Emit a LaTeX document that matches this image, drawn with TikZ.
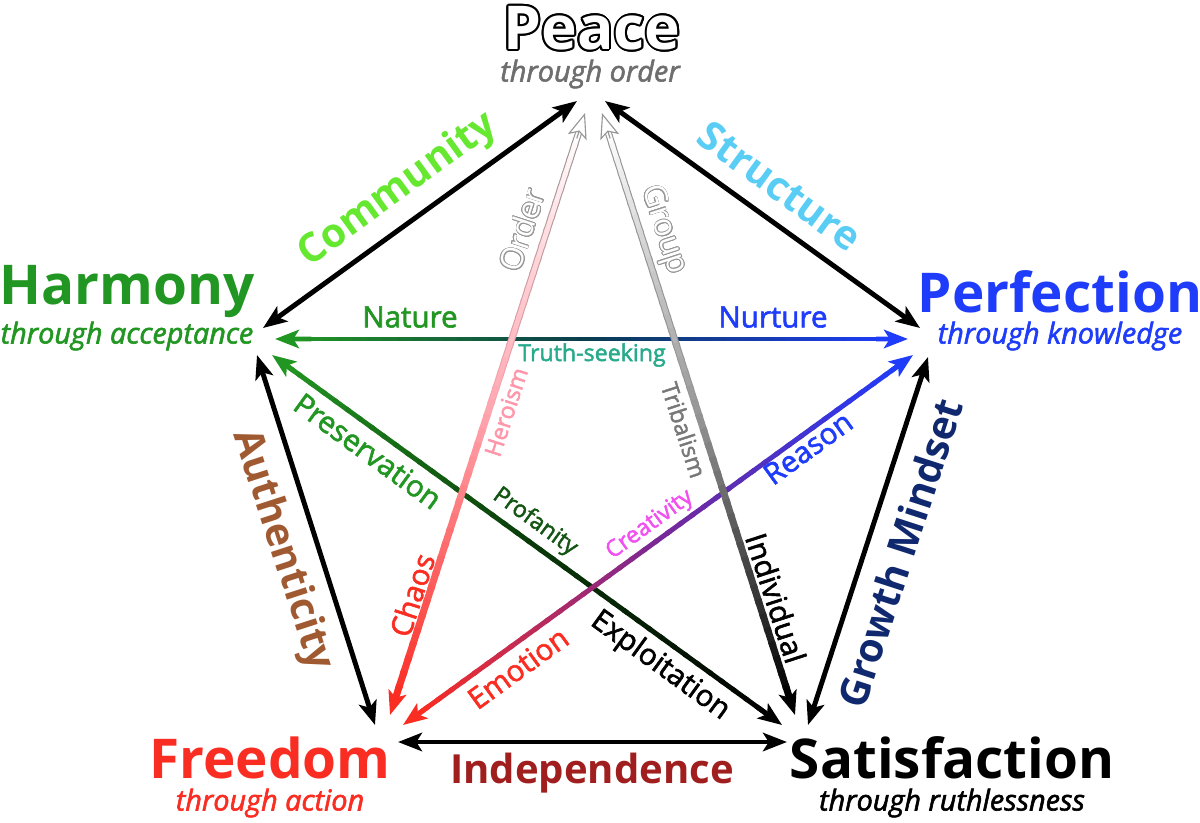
\documentclass[tikz,border=0pt]{standalone}
\usepackage{fontspec}
\setmainfont{Open Sans}
\newfontfamily\semib{Open Sans}[FakeBold=2]
\usepackage{contour}
\usetikzlibrary{arrows.meta,calc}
\definecolor{harmonycol}{RGB}{34,150,34}
\definecolor{communitycol}{RGB}{102,232,48}
\definecolor{structurecol}{RGB}{90,205,245}
\definecolor{perfectioncol}{RGB}{30,60,250}
\definecolor{truthcol}{RGB}{40,170,140}
\definecolor{heroismcol}{RGB}{255,150,170}
\definecolor{tribalcol}{RGB}{120,120,120}
\definecolor{freedomcol}{RGB}{250,45,35}
\definecolor{profanitycol}{RGB}{20,85,20}
\definecolor{creativitycol}{RGB}{240,80,240}
\definecolor{authcol}{RGB}{160,90,50}
\definecolor{growthcol}{RGB}{15,40,110}
\definecolor{indepcol}{RGB}{160,30,30}
\definecolor{peacegray}{RGB}{110,110,110}
\definecolor{midteal}{RGB}{10,60,80}
\definecolor{midgreen}{RGB}{10,60,10}
\definecolor{midpurple}{RGB}{120,40,150}
\definecolor{midpink}{RGB}{255,165,175}
\definecolor{midgray}{RGB}{150,150,150}
\definecolor{outlinegray}{RGB}{150,150,150}

% gradient line: start, end, colour start, colour middle, colour end, width
\newcommand{\gradline}[6]{%
  \coordinate (gA) at ($(#1)!12pt!(#2)$);
  \coordinate (gB) at ($(#2)!12pt!(#1)$);
  \foreach \i in {1,...,40} {
    \pgfmathsetmacro{\ta}{(\i-1)/40}
    \pgfmathsetmacro{\tb}{min(1,(\i+0.3)/40)}
    \ifnum\i<21
      \pgfmathtruncatemacro{\pc}{100-(\i-0.5)*5}
      \colorlet{segcol}{#3!\pc!#4}
    \else
      \pgfmathtruncatemacro{\pc}{100-(\i-20.5)*5}
      \colorlet{segcol}{#4!\pc!#5}
    \fi
    \draw[line width=#6, segcol] ($(gA)!\ta!(gB)$) -- ($(gA)!\tb!(gB)$);
  }
}

\begin{document}
\begin{tikzpicture}[x=0.025cm, y=-0.025cm,
  head/.style={-{Stealth[length=17pt,width=13pt,inset=4pt]}, line width=3.5pt},
  dbl/.style={{Stealth[length=17pt,width=13pt,inset=4pt]}-{Stealth[length=17pt,width=13pt,inset=4pt]}, line width=3.5pt},
  hollow/.style={-{Stealth[open,fill=white,length=18pt,width=14pt,inset=4pt]}, line width=0.8pt, draw=outlinegray},
  title/.style={font=\fontsize{39}{42}\selectfont\bfseries},
  sub/.style={font=\fontsize{20.5}{23}\selectfont\semib\itshape},
  big/.style={font=\fontsize{28.5}{31}\selectfont\bfseries},
  mid/.style={font=\fontsize{21}{24}\selectfont\semib},
  small/.style={font=\fontsize{16.5}{18}\selectfont\semib}
]
\useasboundingbox (0,0) rectangle (1200,822);

% ---- Vertex end points ----
\coordinate (comP) at (577,101);
\coordinate (strP) at (605,101);
\coordinate (ordP) at (585,113);
\coordinate (grpP) at (602,113);
\coordinate (comH) at (263,328);
\coordinate (natH) at (275,339);
\coordinate (preH) at (272,355);
\coordinate (autH) at (257,355);
\coordinate (strF) at (920,328);
\coordinate (nurF) at (908,339);
\coordinate (reaF) at (913,355);
\coordinate (groF) at (928,357);
\coordinate (autR) at (375,725);
\coordinate (chaR) at (390,715);
\coordinate (emoR) at (403,725);
\coordinate (indR) at (398,742);
\coordinate (expS) at (782,725);
\coordinate (ivdS) at (795,715);
\coordinate (groS) at (808,725);
\coordinate (indS) at (787,742);

% ---- Titles ----
\node[font=\fontsize{43}{45}\selectfont\bfseries, text=white] (peace) at (592,29) {\contourlength{1.3pt}\contour{black}{Peace}};
\node[sub, text=peacegray] (peacesub) at (590,74) {through order};
\node[title, text=harmonycol] (harmony) at (127,292) {Harmony};
\node[sub, text=harmonycol] (harmonysub) at (127,336) {through acceptance};
\node[title, text=perfectioncol] (perfection) at (1060,292) {Perfection};
\node[sub, text=perfectioncol] (perfectionsub) at (1060,336) {through knowledge};
\node[title, text=freedomcol] (freedom) at (270,758) {Freedom};
\node[sub, text=freedomcol] (freedomsub) at (270,803) {through action};
\node[title, text=black] (satisfaction) at (952,758) {Satisfaction};
\node[sub, text=black] (satisfactionsub) at (952,803) {through ruthlessness};

% ---- Outer pentagon ----
\draw[dbl] (comH) -- (comP);
\draw[dbl] (strP) -- (strF);
\draw[dbl] (autH) -- (autR);
\draw[dbl] (groF) -- (groS);
\draw[dbl] (indR) -- (indS);

% ---- Gradient star lines ----
\gradline{natH}{nurF}{harmonycol}{midteal}{perfectioncol}{3.5pt}
\draw[head, harmonycol] ($(natH)!20pt!(nurF)$) -- (natH);
\draw[head, perfectioncol] ($(nurF)!20pt!(natH)$) -- (nurF);

\gradline{preH}{expS}{harmonycol}{midgreen}{black}{3.5pt}
\draw[head, harmonycol] ($(preH)!20pt!(expS)$) -- (preH);
\draw[head, black] ($(expS)!20pt!(preH)$) -- (expS);

\gradline{reaF}{emoR}{perfectioncol}{midpurple}{freedomcol}{3.5pt}
\draw[head, perfectioncol] ($(reaF)!20pt!(emoR)$) -- (reaF);
\draw[head, freedomcol] ($(emoR)!20pt!(reaF)$) -- (emoR);

\gradline{ordP}{chaR}{outlinegray}{midpink}{freedomcol}{5pt}
\gradline{ordP}{chaR}{white}{midpink}{freedomcol}{3.4pt}
\draw[hollow] ($(ordP)!19pt!(chaR)$) -- (ordP);
\draw[head, freedomcol] ($(chaR)!20pt!(ordP)$) -- (chaR);

\gradline{grpP}{ivdS}{outlinegray}{midgray}{black}{5pt}
\gradline{grpP}{ivdS}{white}{midgray}{black}{3.4pt}
\draw[hollow] ($(grpP)!19pt!(ivdS)$) -- (grpP);
\draw[head, black] ($(ivdS)!20pt!(grpP)$) -- (ivdS);

% ---- Edge labels ----
\node[big, text=communitycol, rotate=36] (community) at (398,190) {Community};
\node[big, text=structurecol, rotate=-36] (structure) at (780,186) {Structure};
\node[big, text=authcol, rotate=-72] (authenticity) at (282,550) {Authenticity};
\node[big, text=growthcol, rotate=72] (growth) at (900,553) {Growth Mindset};
\node[big, text=indepcol] (independence) at (592,773) {Independence};
\node[mid, text=harmonycol] (nature) at (410,317) {Nature};
\node[mid, text=perfectioncol] (nurture) at (773,317) {Nurture};
\node[small, text=truthcol] (truth) at (592,355) {Truth-seeking};
\node[font=\fontsize{22}{24}\selectfont, text=white, rotate=72] (order) at (522,230) {\contourlength{0.5pt}\contour{outlinegray}{Order}};
\node[font=\fontsize{22}{24}\selectfont, text=white, rotate=-72] (group) at (663,230) {\contourlength{0.5pt}\contour{outlinegray}{Group}};
\node[small, text=heroismcol, rotate=72] (heroism) at (506,412) {Heroism};
\node[small, text=tribalcol, rotate=-72] (tribalism) at (684,430) {Tribalism};
\node[mid, text=freedomcol, rotate=72] (chaos) at (412,595) {Chaos};
\node[mid, text=black, rotate=-72] (individual) at (776,598) {Individual};
\node[mid, text=harmonycol, rotate=-36] (preservation) at (368,451) {Preservation};
\node[small, text=profanitycol, rotate=-36] (profanity) at (535,522) {Profanity};
\node[mid, text=black, rotate=-36] (exploitation) at (660,666) {Exploitation};
\node[mid, text=perfectioncol, rotate=36] (reason) at (808,448) {Reason};
\node[small, text=creativitycol, rotate=36] (creativity) at (650,525) {Creativity};
\node[mid, text=freedomcol, rotate=36] (emotion) at (518,668) {Emotion};

\end{tikzpicture}
\end{document}
